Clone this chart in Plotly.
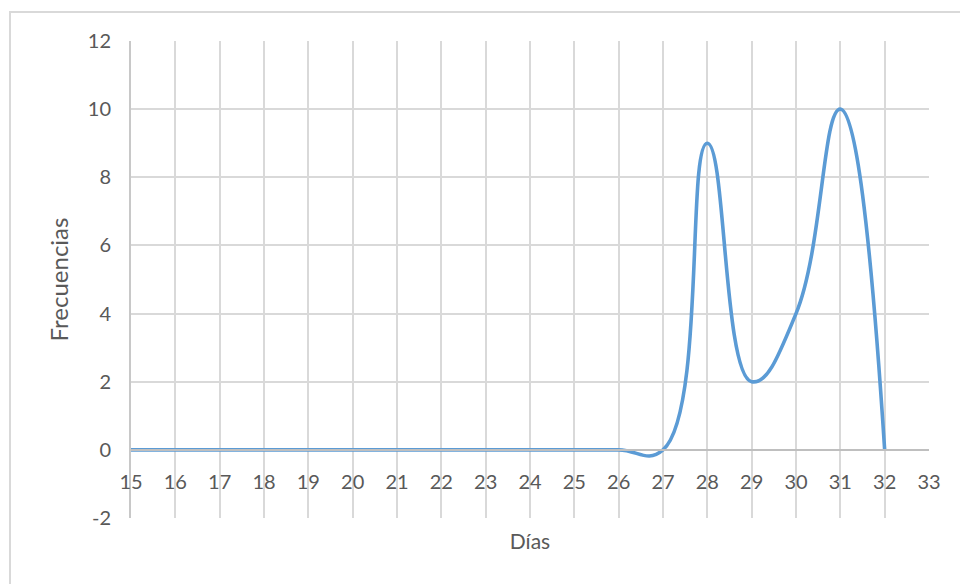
import plotly.graph_objects as go

# Días observados y su frecuencia
dias = [15, 16, 17, 18, 19, 20, 21, 22, 23, 24, 25, 26, 27, 28, 29, 30, 31, 32]
frecuencias = [0, 0, 0, 0, 0, 0, 0, 0, 0, 0, 0, 0, 0, 9, 2, 4, 10, 0]

x_ticks = list(range(15, 34))
y_ticks = list(range(-2, 13, 2))

FONT = "Lato, 'Open Sans', sans-serif"
TEXT = "#595959"
GRID = "#d9d9d9"

fig = go.Figure(
    go.Scatter(
        x=dias,
        y=frecuencias,
        mode="lines",
        line=dict(color="#5b9bd5", width=3.6, shape="spline", smoothing=1.3),
        hoverinfo="x+y",
    )
)

y_min, y_max = -2, 12
fig.update_layout(
    width=960,
    height=584,
    margin=dict(l=131, r=31, t=41, b=66),
    paper_bgcolor="white",
    plot_bgcolor="white",
    showlegend=False,
    font=dict(family=FONT, size=20, color=TEXT),
    xaxis=dict(
        range=[15, 33],
        tickvals=x_ticks,
        ticktext=[str(v) for v in x_ticks],
        tickfont=dict(size=20, color=TEXT),
        showgrid=True,
        gridcolor=GRID,
        gridwidth=2,
        zeroline=False,
        showline=True,
        linecolor="#bfbfbf",
        linewidth=2,
        anchor="free",
        position=(0 - y_min) / (y_max - y_min),
        ticks="",
        ticklen=0,
        ticklabelstandoff=14,
        title=dict(text="Días", standoff=41, font=dict(size=21, color=TEXT)),
    ),
    yaxis=dict(
        range=[y_min, y_max],
        tickvals=y_ticks,
        ticktext=[str(v) for v in y_ticks],
        tickfont=dict(size=20, color=TEXT),
        showgrid=True,
        gridcolor=GRID,
        gridwidth=2,
        zeroline=False,
        showline=True,
        linecolor="#c8c8c8",
        linewidth=2,
        ticks="",
        ticklabelstandoff=14,
        title=dict(text="Frecuencias", standoff=12, font=dict(size=24, color=TEXT)),
    ),
    shapes=[
        dict(
            type="rect",
            xref="paper",
            yref="paper",
            x0=-121 / 798,
            x1=1.2,
            y0=-0.3,
            y1=1 + 29 / 477,
            line=dict(color="#d9d9d9", width=2),
            fillcolor="rgba(0,0,0,0)",
            layer="below",
        )
    ],
)

fig.write_html("out.html")
